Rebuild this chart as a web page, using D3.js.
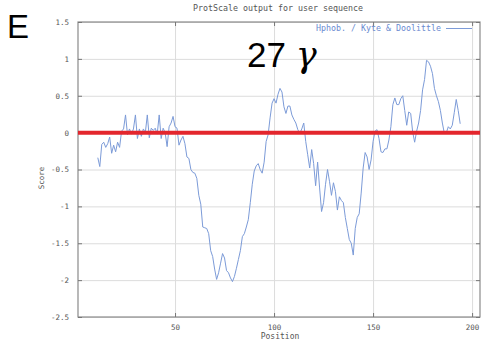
<!DOCTYPE html>
<html>
<head>
<meta charset="utf-8">
<script src="https://cdn.jsdelivr.net/npm/d3@7"></script>
<style>
  body { margin: 0; background: #fff; }
  svg { display: block; }
  .tick text { font-family: 'DejaVu Sans Mono', monospace; font-size: 7.5px; fill: #555; }
  .grid line { stroke: #dcdcdc; }
  .grid path { stroke: none; }
</style>
</head>
<body>
<svg class="chart" width="486" height="347"></svg>
<script>
// Kyte & Doolittle hydrophobicity, one score per position starting at 11
const startPosition = 11
const scores = [
  -0.34, -0.46, -0.16, -0.13, -0.2, -0.15, -0.06, -0.28, -0.17, -0.26,
  -0.13, -0.2, 0.02, 0.05, 0.24, -0.03, 0.05, -0.02, 0.05, 0.24,
  -0.08, 0.05, -0.05, 0.05, 0.0, 0.24, -0.07, 0.06, 0.03, 0.06,
  -0.02, 0.24, -0.08, 0.06, 0.0, -0.19, 0.08, 0.13, 0.22, 0.08,
  0.06, -0.17, -0.1, -0.05, -0.15, -0.33, -0.35, -0.5, -0.54, -0.55,
  -0.62, -0.85, -0.97, -1.28, -1.29, -1.3, -1.37, -1.6, -1.68, -1.85,
  -1.99, -1.9, -1.77, -1.64, -1.7, -1.87, -1.9, -1.97, -2.02, -1.95,
  -1.84, -1.72, -1.6, -1.41, -1.37, -1.28, -1.18, -0.95, -0.7, -0.52,
  -0.45, -0.42, -0.5, -0.55, -0.4, -0.12, -0.03, 0.2, 0.4, 0.46,
  0.4, 0.52, 0.6, 0.55, 0.35, 0.26, 0.36, 0.36, 0.24, 0.18,
  0.13, 0.04, -0.01, 0.05, 0.13, -0.12, -0.3, -0.48, -0.23, -0.42,
  -0.72, -0.4, -0.75, -1.07, -0.95, -0.7, -0.5, -0.66, -0.85, -0.68,
  -0.8, -1.05, -0.87, -0.92, -0.95, -1.15, -1.3, -1.45, -1.5, -1.66,
  -1.3, -1.15, -1.1, -0.82, -0.48, -0.27, -0.33, -0.5, -0.37, -0.12,
  0.02, 0.04, -0.08, -0.26, -0.27, -0.22, -0.22, -0.1, 0.08, 0.38,
  0.47, 0.38, 0.38, 0.46, 0.5, 0.3, 0.1, 0.28, 0.26, 0.01,
  -0.13, 0.02, 0.13, 0.3, 0.58, 0.72, 0.98, 0.96, 0.9, 0.8,
  0.6, 0.5, 0.42, 0.3, 0.13, -0.01, 0.0, 0.08, 0.05, 0.1,
  0.27, 0.45, 0.3, 0.12
]
const xTicks = [50, 100, 150, 200]
const yTicks = [1.5, 1, 0.5, 0, -0.5, -1, -1.5, -2, -2.5]

const points = scores.map((s, i) => ({ pos: startPosition + i, score: s }))

const svg = d3.select('.chart')

const plotLeft = 78
const plotRight = 480
const plotTop = 22
const plotBottom = 317

const xScale = d3.scaleLinear().domain([1, 204]).range([plotLeft, plotRight])
const yScale = d3.scaleLinear().domain([-2.5, 1.5]).range([plotBottom, plotTop])

// plain labels, hyphen minus like the original plot
const plainFormat = d => String(d)

// grid lines
svg.append('g')
  .attr('class', 'grid')
  .attr('transform', `translate(0, ${plotBottom})`)
  .call(d3.axisBottom(xScale).tickValues(xTicks).tickSize(-(plotBottom - plotTop)).tickFormat(''))

svg.append('g')
  .attr('class', 'grid')
  .attr('transform', `translate(${plotLeft}, 0)`)
  .call(d3.axisLeft(yScale).tickValues(yTicks).tickSize(-(plotRight - plotLeft)).tickFormat(''))

// frame
svg.append('rect')
  .attr('x', plotLeft)
  .attr('y', plotTop)
  .attr('width', plotRight - plotLeft)
  .attr('height', plotBottom - plotTop)
  .attr('fill', 'none')
  .attr('stroke', '#8a8a8a')
  .attr('stroke-width', 1.2)

// axes with small inward ticks
const tickColor = '#777'
const styleAxis = g => {
  g.select('.domain').remove()
  g.selectAll('.tick line').attr('stroke', tickColor)
}

svg.append('g')
  .attr('transform', `translate(0, ${plotBottom})`)
  .call(d3.axisBottom(xScale).tickValues(xTicks).tickSize(-4).tickPadding(8).tickFormat(plainFormat))
  .call(styleAxis)

svg.append('g')
  .attr('transform', `translate(0, ${plotTop})`)
  .call(d3.axisTop(xScale).tickValues(xTicks).tickSize(-4).tickFormat(''))
  .call(styleAxis)

svg.append('g')
  .attr('transform', `translate(${plotLeft}, 0)`)
  .call(d3.axisLeft(yScale).tickValues(yTicks).tickSize(-4).tickPadding(9).tickFormat(plainFormat))
  .call(styleAxis)

svg.append('g')
  .attr('transform', `translate(${plotRight}, 0)`)
  .call(d3.axisRight(yScale).tickValues(yTicks).tickSize(-4).tickFormat(''))
  .call(styleAxis)

// hydrophobicity line
const line = d3.line()
  .x(d => xScale(d.pos))
  .y(d => yScale(d.score))

svg.append('path')
  .datum(points)
  .attr('fill', 'none')
  .attr('stroke', '#7c9bd8')
  .attr('stroke-width', 1)
  .attr('d', line)

// zero reference line
svg.append('line')
  .attr('x1', plotLeft)
  .attr('x2', plotRight)
  .attr('y1', yScale(0))
  .attr('y2', yScale(0))
  .attr('stroke', '#e3262d')
  .attr('stroke-width', 4)

// labels
const mono = "'DejaVu Sans Mono', monospace"

svg.append('text')
  .attr('x', 278)
  .attr('y', 11)
  .attr('text-anchor', 'middle')
  .attr('font-family', mono)
  .attr('font-size', 8.3)
  .attr('fill', '#555')
  .text('ProtScale output for user sequence')

svg.append('text')
  .attr('x', 280)
  .attr('y', 339)
  .attr('text-anchor', 'middle')
  .attr('font-family', mono)
  .attr('font-size', 8)
  .attr('fill', '#555')
  .text('Position')

svg.append('text')
  .attr('transform', 'translate(44, 178) rotate(-90)')
  .attr('text-anchor', 'middle')
  .attr('font-family', mono)
  .attr('font-size', 7.5)
  .attr('fill', '#555')
  .text('Score')

// legend
svg.append('text')
  .attr('x', 441)
  .attr('y', 31)
  .attr('text-anchor', 'end')
  .attr('font-family', mono)
  .attr('font-size', 8.3)
  .attr('fill', '#6a8ad0')
  .text('Hphob. / Kyte & Doolittle')

svg.append('line')
  .attr('x1', 446)
  .attr('x2', 472)
  .attr('y1', 28.5)
  .attr('y2', 28.5)
  .attr('stroke', '#7c9bd8')
  .attr('stroke-width', 1)

// panel annotations
svg.append('text')
  .attr('x', 7)
  .attr('y', 38)
  .attr('font-family', 'Liberation Sans, Arial, sans-serif')
  .attr('font-size', 33)
  .attr('fill', '#000')
  .text('E')

const tag = svg.append('text')
  .attr('x', 247)
  .attr('y', 67)
  .attr('font-family', 'Liberation Sans, Arial, sans-serif')
  .attr('font-size', 35)
  .attr('fill', '#000')
tag.append('tspan').text('27 ')
tag.append('tspan')
  .attr('font-family', 'DejaVu Serif, serif')
  .attr('font-style', 'italic')
  .text('γ')
</script>
</body>
</html>
